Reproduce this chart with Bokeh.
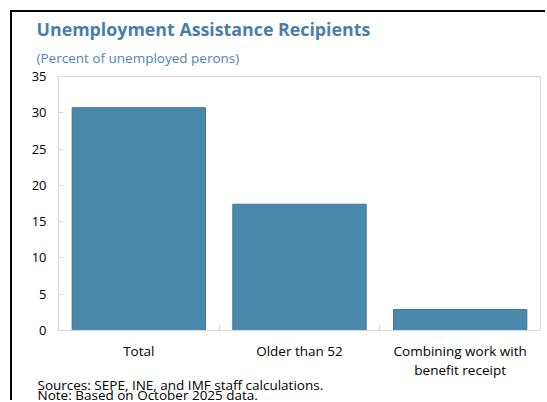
from bokeh.plotting import figure
from bokeh.models import Range1d, FixedTicker, Title, ColumnDataSource
from bokeh.embed import file_html
from bokeh.resources import INLINE

categories = ["Total", "Older than 52", "Combining work with\nbenefit receipt"]
values = [30.7, 17.4, 2.9]
y_ticks = [0, 5, 10, 15, 20, 25, 30, 35]

xpos = [i + 0.5 for i in range(len(categories))]
src = ColumnDataSource(dict(x=xpos, top=values))

FONT = "Open Sans"
BLUE = "#4A7EAA"

p = figure(width=535, height=390, output_backend="svg", toolbar_location=None,
           x_range=Range1d(0, len(categories)), y_range=Range1d(0, 35),
           min_border_left=46, min_border_right=7, min_border_top=64, min_border_bottom=0,
           margin=(10, 0, 0, 10))
p.styles = {"border-top": "2px solid black", "border-left": "2px solid black"}

p.vbar(x="x", top="top", width=0.83, source=src, fill_color="#4A89AB",
       line_color="#3F7695", line_width=1)

p.grid.visible = False
p.outline_line_color = "#D9D9D9"
p.outline_line_width = 1

# y axis
p.yaxis.ticker = FixedTicker(ticks=y_ticks)
p.yaxis.axis_line_color = "#D9D9D9"
p.yaxis.major_tick_line_color = "#D9D9D9"
p.yaxis.major_tick_in = 5
p.yaxis.major_tick_out = 0
p.yaxis.minor_tick_line_color = None
p.yaxis.major_label_standoff = 12
p.yaxis.major_label_text_font = FONT
p.yaxis.major_label_text_font_size = "13px"
p.yaxis.major_label_text_color = "#000000"

# x axis
p.xaxis.ticker = FixedTicker(ticks=xpos, minor_ticks=list(range(1, len(categories))))
p.xaxis.major_label_overrides = {x: c for x, c in zip(xpos, categories)}
p.xaxis.axis_line_color = "#D9D9D9"
p.xaxis.major_tick_line_color = None
p.xaxis.minor_tick_line_color = "#D9D9D9"
p.xaxis.minor_tick_in = 5
p.xaxis.minor_tick_out = 0
p.xaxis.major_label_standoff = 5
p.xaxis.major_label_text_font = FONT
p.xaxis.major_label_text_font_size = "13.5px"
p.xaxis.major_label_text_color = "#000000"
p.xaxis.major_label_text_line_height = 1.1

# titles above (first added = closest to the frame)
p.title = None
p.add_layout(Title(text="(Percent of unemployed perons)", text_font=FONT,
                   text_font_size="13.5px", text_font_style="normal", text_color="#4F86B5",
                   align="left", vertical_align="top", offset=-22, standoff=15), "above")
p.add_layout(Title(text="Unemployment Assistance Recipients", text_font=FONT,
                   text_font_size="17.8px", text_font_style="bold", text_color=BLUE,
                   align="left", offset=-22, standoff=2), "above")

# footer below the x axis
p.add_layout(Title(text="Sources: SEPE, INE, and IMF staff calculations.", text_font=FONT,
                   text_font_size="13.5px", text_font_style="normal", text_color="#000000",
                   align="left", offset=-21, standoff=-17), "below")
p.add_layout(Title(text="Note: Based on October 2025 data.", text_font=FONT,
                   text_font_size="13.5px", text_font_style="normal", text_color="#000000",
                   align="left", offset=-21, standoff=-3), "below")

open("out.html", "w").write(file_html(p, INLINE))
